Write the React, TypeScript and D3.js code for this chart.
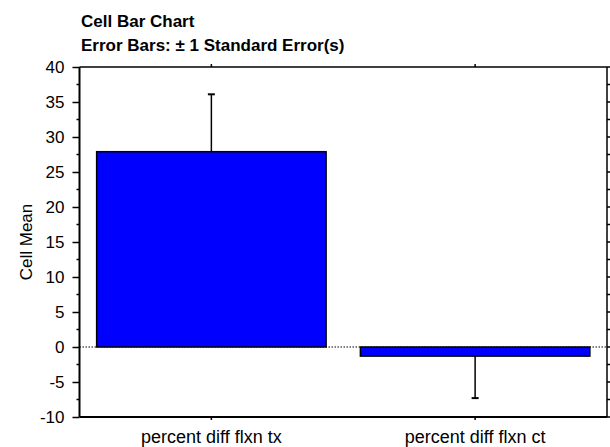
import React, { useEffect, useRef } from 'react';
import * as d3 from 'd3';

const categories = ['percent diff flxn tx', 'percent diff flxn ct'];
const cellMeans = [27.9, -1.3];
const stdErrors = [8.2, 6.0];
const yTicks = [-10, -5, 0, 5, 10, 15, 20, 25, 30, 35, 40];
const titleLines = ['Cell Bar Chart', 'Error Bars: \u00b1 1 Standard Error(s)'];

const W = 610;
const H = 447;
const FONT = '"Liberation Sans", Arial, Helvetica, sans-serif';

const App: React.FC = () => {
  const svgRef = useRef<SVGSVGElement>(null);

  useEffect(() => {
    document.body.style.margin = '0';
    if (!svgRef.current) return;
    const svg = d3.select(svgRef.current);
    svg.selectAll('*').remove();

    const left = 79.5;
    const right = 607;
    const top = 67;
    const bottom = 417;

    const y = d3.scaleLinear().domain([-10, 40]).range([bottom, top]);
    const x = d3
      .scaleBand<string>()
      .domain(categories)
      .range([left, right])
      .paddingInner(0.13)
      .paddingOuter(0.065);

    const minor = d3.range(-10, 40.01, 2.5);

    // Zero reference line
    svg.append('line')
      .attr('x1', left).attr('x2', right)
      .attr('y1', y(0)).attr('y2', y(0))
      .attr('stroke', '#000')
      .attr('stroke-width', 1)
      .attr('stroke-dasharray', '1.5,1.5');

    // Bars
    svg.selectAll('.bar')
      .data(categories)
      .enter()
      .append('rect')
      .attr('class', 'bar')
      .attr('x', d => x(d)!)
      .attr('width', x.bandwidth())
      .attr('y', (_, i) => y(Math.max(0, cellMeans[i])))
      .attr('height', (_, i) => Math.abs(y(cellMeans[i]) - y(0)))
      .attr('fill', '#0000ff')
      .attr('stroke', '#000')
      .attr('stroke-width', 1.5);

    // Error bars (one direction, away from zero)
    categories.forEach((c, i) => {
      const cx = x(c)! + x.bandwidth() / 2;
      const m = cellMeans[i];
      const end = m >= 0 ? m + stdErrors[i] : m - stdErrors[i];
      svg.append('line')
        .attr('x1', cx).attr('x2', cx)
        .attr('y1', y(m)).attr('y2', y(end))
        .attr('stroke', '#000').attr('stroke-width', 1.5);
      svg.append('line')
        .attr('x1', cx - 3.5).attr('x2', cx + 3.5)
        .attr('y1', y(end)).attr('y2', y(end))
        .attr('stroke', '#000').attr('stroke-width', 2);
    });

    // Frame
    const frame = svg.append('g').attr('stroke', '#000').attr('fill', 'none');
    frame.append('line').attr('x1', left).attr('x2', right).attr('y1', top).attr('y2', top).attr('stroke-width', 1.5);
    frame.append('line').attr('x1', right).attr('x2', right).attr('y1', top).attr('y2', bottom).attr('stroke-width', 1.5);
    frame.append('line').attr('x1', left).attr('x2', right).attr('y1', bottom).attr('y2', bottom).attr('stroke-width', 2);
    frame.append('line').attr('x1', left).attr('x2', left).attr('y1', top).attr('y2', bottom).attr('stroke-width', 2);

    // Left axis
    const yAxis = svg.append('g')
      .attr('transform', `translate(${left},0)`)
      .call(d3.axisLeft(y).tickValues(yTicks).tickFormat(d => String(d)).tickSize(7).tickPadding(8).tickSizeOuter(0));
    yAxis.select('.domain').remove();
    yAxis.selectAll('line').attr('stroke-width', 1.5);
    yAxis.selectAll('text')
      .style('font-family', FONT)
      .style('font-size', '17px')
      .attr('fill', '#000');

    // Minor ticks
    svg.append('g')
      .selectAll('line')
      .data(minor.filter(v => !yTicks.includes(v)))
      .enter()
      .append('line')
      .attr('x1', left - 3).attr('x2', left)
      .attr('y1', d => y(d)).attr('y2', d => y(d))
      .attr('stroke', '#000').attr('stroke-width', 1.5);

    // Right axis ticks
    svg.append('g')
      .selectAll('line')
      .data(minor)
      .enter()
      .append('line')
      .attr('x1', right).attr('x2', right + 3)
      .attr('y1', d => y(d)).attr('y2', d => y(d))
      .attr('stroke', '#000').attr('stroke-width', 1.5);

    // Top ticks
    svg.append('g')
      .selectAll('line')
      .data(categories)
      .enter()
      .append('line')
      .attr('x1', d => x(d)! + x.bandwidth() / 2)
      .attr('x2', d => x(d)! + x.bandwidth() / 2)
      .attr('y1', top - 3).attr('y2', top)
      .attr('stroke', '#000').attr('stroke-width', 1.5);

    // Bottom axis
    const xAxis = svg.append('g')
      .attr('transform', `translate(0,${bottom})`)
      .call(d3.axisBottom(x).tickSize(3).tickPadding(10).tickSizeOuter(0));
    xAxis.select('.domain').remove();
    xAxis.selectAll('line').attr('stroke-width', 1.5);
    xAxis.selectAll('text')
      .style('font-family', FONT)
      .style('font-size', '18px')
      .attr('fill', '#000');

    // Y label
    svg.append('text')
      .attr('transform', `translate(32,${(top + bottom) / 2}) rotate(-90)`)
      .attr('text-anchor', 'middle')
      .style('font-family', FONT)
      .style('font-size', '17px')
      .text('Cell Mean');

    // Title
    svg.selectAll('.title')
      .data(titleLines)
      .enter()
      .append('text')
      .attr('class', 'title')
      .attr('x', 81)
      .attr('y', (_, i) => 27 + i * 23.5)
      .style('font-family', FONT)
      .style('font-size', '17px')
      .style('font-weight', 'bold')
      .text(d => d);
  }, []);

  return <svg ref={svgRef} width={W} height={H} style={{ display: 'block', background: '#fff' }} />;
};

export default App;
